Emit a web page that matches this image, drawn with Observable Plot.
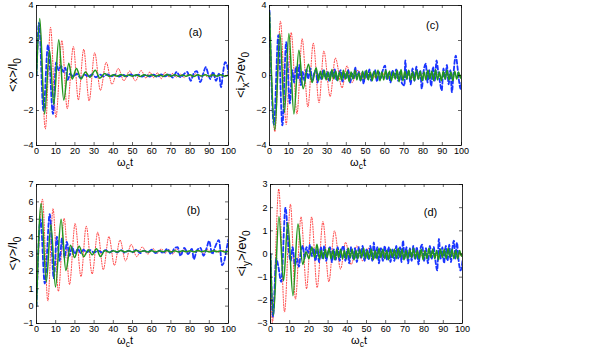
<!DOCTYPE html>
<html><head><meta charset="utf-8">
<script src="https://cdn.jsdelivr.net/npm/d3@7"></script>
<script src="https://cdn.jsdelivr.net/npm/@observablehq/plot@0.6"></script>
<style>
body{margin:0;background:#fff}
#c{position:relative;width:599px;height:349px;overflow:hidden;font-family:"Liberation Sans",Arial,sans-serif;background:#fff}
#c svg{position:absolute}
</style></head><body><div id="c"></div>
<script>
// ---- tick labels ----
const xTicks = [0,10,20,30,40,50,60,70,80,90,100];
const yTicksA = [-4,-2,0,2,4];
const yTicksB = [-1,0,1,2,3,4,5,6,7];
const yTicksC = [-4,-2,0,2,4];
const yTicksD = [-3,-2,-1,0,1,2,3];

// ---- panel (a): <x>/l0 ----
const aRed = [[0,0],[1.5,3.0],[4.6,-3.05],[7.3,2.75],[10.1,-2.4],[13.2,2.0],[16.0,-1.9],[19.2,1.65],[21.8,-1.4],[24.6,1.5],[27.4,-1.45],[30.3,1.3],[33.3,-0.85],[36.3,0.75],[39.3,-0.5],[42.6,0.4],[45.5,-0.3],[48.5,0.25],[51.5,-0.3],[54.5,0.28],[57,-0.15],[59,0.2],[61,-0.12],[63,0.15],[65,-0.18],[67,0.18],[69,-0.08],[71,0.12],[73,-0.1],[75,0.08],[77,-0.12],[79,0.1],[81,-0.08],[83,0.1],[85,-0.1],[87,0.1],[89,-0.08],[91,0.06],[93,-0.08],[95,0.08],[97,-0.05],[100,0.05]];
const aBlue = [[0,0],[1.3,3.0],[3.6,-2.0],[6.0,1.75],[8.6,-2.2],[10.2,0.75],[11.5,0.3],[12.8,0.55],[14,0.2],[15,0.45],[16.3,-0.25],[17.5,0.1],[19,-0.05],[21,0.1],[23,-0.15],[25,0.05],[27,-0.06],[29,0.06],[31,-0.1],[33,0.05],[35,-0.05],[37,0.06],[39,-0.05],[41,0.05],[43,-0.06],[45,0.04],[47,-0.05],[49,0.06],[51,-0.03],[53,0.05],[55,-0.06],[57,0.04],[59,-0.06],[61,0.05],[63,-0.08],[65,0.06],[67,-0.05],[69,0.08],[71,-0.12],[73,0.2],[75,-0.1],[77,0.1],[78.5,0.2],[80.3,-0.3],[82,0.15],[83.5,0.25],[85.3,-0.38],[86.8,0.1],[88.2,0.48],[89.5,0.05],[90.5,-0.2],[92,0.2],[93.5,-0.3],[95,0.1],[96.1,-0.67],[97.2,0.2],[98.2,0.76],[99.2,0.6],[100,0.1]];
const aGreen = [[0,0],[1.7,3.25],[4.2,-2.2],[6.8,1.45],[9.0,-1.65],[11.6,2.05],[14.2,-1.4],[16.8,0.7],[18.6,-0.2],[20.8,0.4],[23.2,-0.2],[25.5,0.2],[27.8,-0.1],[30.6,0.3],[33,-0.15],[35.5,0.12],[38,-0.06],[40,0.05],[42,-0.04],[44,0.06],[46,-0.05],[48,0.03],[50,-0.04],[52,0.05],[54,-0.06],[56,0.04],[58,-0.03],[60,0.05],[62,-0.05],[64,0.03],[66,-0.05],[68,0.06],[70,-0.04],[72,0.05],[74,-0.05],[76,0.03],[78,-0.04],[80,0.05],[82,-0.06],[84,0.04],[86,-0.03],[88,0.05],[90,-0.05],[92,0.04],[94,-0.04],[96,0.05],[98,-0.04],[100,0.03]];

// ---- panel (b): <y>/l0 ----
const bRed = [[0,0],[3.1,6.15],[5.9,0.3],[8.6,5.6],[11.4,0.85],[14.4,5.05],[17.2,1.25],[20.1,4.75],[23.2,1.7],[25.9,4.6],[29,1.85],[31.9,4.25],[34.8,2.1],[37.7,4.0],[40.6,2.35],[43.5,3.8],[46.4,2.6],[49.3,3.55],[52.2,2.85],[55,3.4],[58,3.0],[60.8,3.3],[63,3.05],[65,3.3],[67,3.05],[69,3.25],[71,3.0],[73,3.3],[75,3.05],[77,3.25],[79,3.05],[81,3.25],[83,3.1],[85,3.2],[87,3.05],[89,3.25],[91,3.1],[93,3.2],[95,3.1],[97,3.2],[100,3.15]];
const bBlue = [[0,0],[2.1,5.0],[4.3,1.3],[6.9,5.3],[9.0,1.6],[10.6,4.0],[12,2.6],[13.3,3.9],[14.7,2.8],[15.8,3.7],[17.2,2.9],[18.5,3.4],[20,3.0],[21.5,3.3],[23,3.05],[24.5,3.25],[26,3.1],[28,3.22],[30,3.08],[32,3.2],[34,3.1],[36,3.22],[38,3.08],[40,3.2],[42,3.1],[44,3.22],[46,3.08],[48,3.2],[50,3.1],[52,3.25],[54,3.05],[56,3.2],[58,3.1],[60,3.25],[62,3.05],[64,3.2],[66,3.05],[68,3.3],[70,3.0],[72,3.35],[73.5,3.4],[75,2.9],[77,3.35],[79,3.0],[81,3.3],[81.9,2.7],[83.5,3.2],[85.4,3.35],[87,2.9],[88.5,3.3],[89.9,3.75],[91.5,3.0],[93,3.4],[95,3.8],[96.7,2.35],[97.8,2.6],[99,3.3],[100,3.85]];
const bGreen = [[0,0],[2.4,5.9],[5.1,1.4],[7.5,4.7],[9.9,1.1],[12.8,5.0],[15.3,2.05],[17.7,3.5],[19.8,2.8],[22.2,3.45],[24.6,2.85],[27,3.25],[29,2.95],[31.2,3.3],[33.3,2.85],[35.5,3.2],[38,3.1],[40,3.18],[42,3.12],[44,3.2],[46,3.12],[48,3.18],[50,3.12],[52,3.2],[54,3.13],[56,3.18],[58,3.12],[60,3.19],[62,3.12],[64,3.18],[66,3.13],[68,3.2],[70,3.12],[72,3.18],[74,3.12],[76,3.19],[78,3.13],[80,3.18],[82,3.12],[84,3.2],[86,3.13],[88,3.18],[90,3.12],[92,3.19],[94,3.13],[96,3.18],[98,3.12],[100,3.16]];

// ---- panel (c): <ix>/ev0 ----
const cRed = [[0,3.6],[2.8,-3.2],[5.7,3.1],[8.7,-2.8],[11.3,2.45],[14.3,-2.2],[17,2.1],[20,-1.8],[22.8,1.85],[25.8,-1.55],[28.3,1.4],[31.6,-1.2],[34.3,1.0],[37.8,-0.7],[40.3,0.55],[43,-0.4],[46,0.3],[49,-0.25],[52,0.2],[54,-0.15],[56,0.15],[58,-0.12],[60,0.15],[62,-0.15],[64,0.1],[66,-0.12],[68,0.15],[70,-0.1],[72,0.12],[74,-0.15],[76,0.1],[78,-0.1],[80,0.12],[82,-0.12],[84,0.1],[86,-0.1],[88,0.12],[90,-0.12],[92,0.1],[94,-0.1],[96,0.12],[98,-0.1],[100,0.05]];
const cBlue = [[0,3.7],[2.3,-2.8],[4.6,2.3],[6.7,-2.85],[8.7,1.9],[10.6,-1.6],[11.8,0.3],[12.8,-0.4],[13.8,0.5],[14.8,-0.2],[15.5,0.6],[16.4,-0.55],[17.3,0.2],[18.2,-0.3],[19.2,0.35],[20.1,-0.2],[21.3,0.4],[22.2,-0.3],[23.2,0.1],[24.2,0.3],[25,-0.4],[26,0.1],[27,-0.2],[28,0.3],[29,-0.15],[30,0.2],[31,-0.3],[32,0.25],[33,-0.1],[34,0.35],[35,-0.3],[36,0.05],[37,0.3],[38,-0.35],[39,0.15],[40,-0.2],[41,0.3],[42,-0.4],[43,0.1],[44,-0.15],[44.6,0.48],[45.5,-0.1],[46.5,0.2],[47.5,-0.3],[48.3,0.15],[49,-0.48],[50,0.25],[51,-0.2],[52,0.35],[53,-0.3],[54,0.1],[55,0.3],[56,-0.35],[57,0.2],[58,-0.15],[59,0.3],[60.2,0.57],[61,-0.2],[62,0.15],[63,-0.4],[64,0.3],[65,-0.1],[66,0.35],[67,-0.3],[68,0.2],[69,-0.45],[70.3,-0.57],[70.7,0.86],[71.5,-0.2],[72.5,0.3],[73.5,-0.5],[74.5,0.4],[75.5,-0.3],[76.5,0.5],[77.5,-0.2],[78.5,0.3],[79.3,-0.76],[80.2,0.2],[81.4,0.67],[82.3,-0.4],[83.2,0.3],[84.2,-0.6],[85.2,0.5],[86.1,-0.3],[87,0.86],[87.9,0.2],[88.8,-0.4],[89.7,-0.86],[90.6,0.4],[91.5,-0.2],[92.4,0.6],[93.3,-0.5],[94.2,0.3],[95,-0.95],[95.9,0.2],[97,1.14],[97.9,0.5],[98.7,-0.3],[99.5,-0.76],[100,-0.4]];
const cGreen = [[0,3.6],[2.8,-3.1],[5.4,2.4],[7.8,-2.1],[10.1,2.4],[12.7,-2.2],[15.3,1.45],[17.5,-0.75],[20.3,0.65],[22.2,-0.4],[24.3,0.45],[25.5,-0.3],[26.5,0.25],[27.5,-0.2],[28.5,0.3],[29.5,-0.25],[30.5,0.2],[31.5,-0.3],[32.5,0.35],[33.5,-0.2],[34.5,0.25],[35.5,-0.3],[36.5,0.2],[37.5,-0.25],[38.5,0.3],[39.5,-0.2],[40.5,0.25],[41.5,-0.35],[42.5,0.2],[43.5,-0.2],[44.5,0.3],[45.5,-0.25],[46.5,0.15],[47.5,-0.3],[48.5,0.25],[49.5,-0.2],[50.5,0.3],[51.5,-0.25],[52.5,0.2],[53.5,-0.3],[54.5,0.25],[55.5,-0.15],[56.5,0.3],[57.5,-0.3],[58.5,0.2],[59.5,-0.25],[60.5,0.3],[61.5,-0.2],[62.5,0.25],[63.5,-0.3],[64.5,0.2],[65.5,-0.2],[66.5,0.3],[67.5,-0.35],[68.5,0.35],[69.5,-0.3],[70.5,0.25],[71.5,-0.2],[72.5,0.3],[73.5,-0.25],[74.5,0.2],[75.5,-0.3],[76.5,0.3],[77.5,-0.2],[78.5,0.25],[79.5,-0.3],[80.5,0.2],[81.5,-0.25],[82.5,0.3],[83.5,-0.2],[84.5,0.25],[85.5,-0.3],[86.5,0.35],[87.5,-0.25],[88.5,0.2],[89.5,-0.3],[90.5,0.25],[91.5,-0.2],[92.5,0.3],[93.5,-0.25],[94.5,0.2],[95.5,-0.3],[96.5,0.25],[97.5,-0.2],[98.5,0.2],[99.5,-0.15],[100,0.05]];

// ---- panel (d): <iy>/ev0 ----
const dRed = [[0,0],[1.0,-2.95],[4.3,2.8],[7.3,-2.5],[10.4,2.15],[13,-1.95],[15.9,1.6],[18.8,-1.5],[21.4,1.6],[24.3,-1.45],[27.3,1.4],[30.4,-1.2],[33.3,1.0],[36.5,-0.65],[39.1,0.5],[42,-0.45],[45,0.35],[48,-0.3],[51,0.25],[54,-0.2],[56,0.15],[58,-0.15],[60,0.12],[62,-0.15],[64,0.15],[66,-0.1],[68,0.12],[70,-0.15],[72,0.1],[74,-0.12],[76,0.15],[78,-0.1],[80,0.12],[82,-0.15],[84,0.1],[86,-0.12],[88,0.12],[90,-0.1],[92,0.12],[94,-0.12],[96,0.1],[98,-0.1],[100,0.05]];
const dBlue = [[0,0],[1.3,-2.7],[3.0,-0.2],[4.0,-0.5],[5.6,-1.2],[7.8,2.0],[9.6,0.1],[10.5,-0.3],[11.5,0.3],[12.8,-0.5],[13.8,-0.2],[14.8,-0.55],[15.8,0.1],[16.8,0.35],[17.8,-0.2],[18.7,0.3],[19.7,0.05],[20.6,0.4],[21.5,-0.1],[22.5,0.25],[23.4,-0.3],[24.4,0.2],[25.3,-0.35],[26.2,0.3],[27.1,-0.2],[28,0.35],[29,-0.3],[30,0.1],[31,0.3],[32,-0.35],[33,0.2],[34,-0.25],[35,0.3],[36,-0.3],[37,0.15],[38,0.35],[39,-0.3],[40,0.2],[41,-0.4],[42,0.3],[43,-0.2],[44,0.25],[45,-0.35],[46,0.3],[47,-0.15],[48,0.35],[49,-0.3],[50,0.2],[51,-0.25],[52,0.35],[53,-0.3],[53.8,0.5],[54.7,-0.2],[55.6,0.3],[56.5,-0.4],[57.5,0.25],[58.5,-0.3],[59.5,0.35],[60.5,-0.25],[61.5,0.3],[62.5,-0.35],[63.5,0.2],[64.5,-0.3],[65.5,0.35],[66.5,-0.2],[67.5,0.3],[68.2,-0.35],[69,0.58],[69.9,-0.2],[70.8,0.3],[71.7,-0.4],[72.6,0.25],[73.5,-0.3],[74.4,0.35],[75.3,-0.25],[76.2,0.3],[77.1,-0.45],[78,0.2],[79,0.4],[80,-0.3],[81,0.25],[82,-0.4],[83,0.35],[84,-0.2],[85,0.3],[86,-0.35],[86.8,-0.71],[87.7,0.65],[88.6,-0.2],[89.5,0.3],[90.4,-0.4],[91.3,0.35],[92.2,-0.3],[93.1,0.4],[94,-0.35],[94.8,0.3],[95.5,0.58],[96.3,-0.2],[97.1,0.5],[98,-0.3],[99,-0.71],[100,-0.3]];
const dGreen = [[0,0],[1.5,-2.65],[4.4,1.62],[6.8,-1.15],[9.0,1.35],[11.7,-1.8],[14.3,1.3],[16.8,-0.45],[18.5,0.1],[20,-0.2],[21.5,0.3],[23,-0.15],[24.2,0.42],[25.5,-0.2],[26.5,0.15],[27.5,-0.2],[28.5,0.2],[29.5,-0.15],[30.5,0.25],[31.5,-0.2],[32.5,0.15],[33.5,-0.25],[34.5,0.2],[35.5,-0.15],[36.5,0.2],[37.5,-0.2],[38.5,0.15],[39.5,-0.2],[40.5,0.25],[41.5,-0.15],[42.5,0.2],[43.5,-0.25],[44.5,0.15],[45.5,-0.2],[46.5,0.2],[47.5,-0.15],[48.5,0.25],[49.5,-0.2],[50.5,0.15],[51.5,-0.2],[52.5,0.2],[53.5,-0.25],[54.5,0.15],[55.5,-0.2],[56.5,0.25],[57.5,-0.15],[58.5,0.2],[59.5,-0.2],[60.5,0.15],[61.5,-0.25],[62.5,0.2],[63.5,-0.15],[64.5,0.2],[65.5,-0.2],[66.5,0.25],[67.5,-0.15],[68.5,0.2],[69.5,-0.25],[70.5,0.15],[71.5,-0.2],[72.5,0.2],[73.5,-0.15],[74.5,0.25],[75.5,-0.2],[76.5,0.15],[77.5,-0.2],[78.5,0.2],[79.5,-0.25],[80.5,0.15],[81.5,-0.2],[82.5,0.25],[83.5,-0.15],[84.5,0.2],[85.5,-0.2],[86.5,0.15],[87.5,-0.25],[88.5,0.2],[89.5,-0.15],[90.5,0.2],[91.5,-0.2],[92.5,0.25],[93.5,-0.15],[94.5,0.2],[95.5,-0.2],[96.5,0.15],[97.5,-0.2],[98.5,0.15],[99.5,-0.1],[100,0.02]];

const RED = "#ff2020", BLUE = "#1a35ff", GREEN = "#22961c";
const FONT = "'Liberation Sans', Arial, Helvetica, sans-serif";

const panels = [
  {left:0, top:0, h:175, fh:140, yDomain:[-4,4], yTicks:yTicksA, red:aRed, blue:aBlue, green:aGreen,
   ylab:[["<x>/l",0],["0",1]], ylx:17, tag:"(a)", tagDx:-33, tagDy:27},
  {left:233, top:0, h:175, fh:140, yDomain:[-4,4], yTicks:yTicksC, red:cRed, blue:cBlue, green:cGreen,
   ylab:[["<i",0],["x",1],[">/ev",-1],["0",1]], ylx:12, tag:"(c)", tagDx:-29, tagDy:20},
  {left:0, top:179, h:170, fh:139, yDomain:[-1,7], yTicks:yTicksB, red:bRed, blue:bBlue, green:bGreen,
   ylab:[["<y>/l",0],["0",1]], ylx:17, tag:"(b)", tagDx:-35, tagDy:26},
  {left:234, top:179, h:170, fh:139, yDomain:[-3,3], yTicks:yTicksD, red:dRed, blue:dBlue, green:dGreen,
   ylab:[["<i",0],["y",1],[">/ev",-1],["0",1]], ylx:12, tag:"(d)", tagDx:-32, tagDy:28}
];

const root = document.getElementById("c");
const FW = 192, ML = 36, W = 300;

for (const p of panels) {
  const lineOpts = {x: d => d[0], y: d => d[1], curve: "monotone-x", clip: true};
  const chart = Plot.plot({
    width: W, height: p.h,
    marginLeft: ML, marginRight: W - ML - FW, marginTop: 5, marginBottom: p.h - 5 - p.fh,
    style: {fontFamily: FONT, fontSize: "9px", background: "transparent", color: "#000", overflow: "visible"},
    x: {domain: [0, 100]},
    y: {domain: p.yDomain},
    marks: [
      Plot.line(p.red, {...lineOpts, stroke: RED, strokeWidth: 0.9, strokeDasharray: "1,1.6"}),
      Plot.line(p.blue, {...lineOpts, stroke: BLUE, strokeWidth: 1.8, strokeDasharray: "4,2.5"}),
      Plot.line(p.green, {...lineOpts, stroke: GREEN, strokeWidth: 1.5}),
      Plot.ruleX(xTicks, {x: d => d, insetTop: p.fh - 3, stroke: "#000", strokeWidth: 0.6}),
      Plot.ruleX(xTicks, {x: d => d, insetBottom: p.fh - 3, stroke: "#000", strokeWidth: 0.6}),
      Plot.ruleY(p.yTicks, {y: d => d, insetRight: FW - 3, stroke: "#000", strokeWidth: 0.6}),
      Plot.ruleY(p.yTicks, {y: d => d, insetLeft: FW - 3, stroke: "#000", strokeWidth: 0.6}),
      Plot.axisX(xTicks, {tickSize: 0, tickPadding: 2, label: null, fontSize: 9}),
      Plot.axisY(p.yTicks, {tickSize: 0, tickPadding: 3, label: null, fontSize: 9}),
      Plot.frame({stroke: "#000", strokeWidth: 0.8}),
      Plot.text([p.tag], {text: d => d, frameAnchor: "top-right", dx: p.tagDx, dy: p.tagDy - 4, fontSize: 11, textAnchor: "middle"})
    ]
  });
  chart.style.left = p.left + "px";
  chart.style.top = p.top + "px";
  const svg = d3.select(chart);
  // x-axis label: omega_c t
  const xl = svg.append("text")
    .attr("x", ML + FW / 2 - 7).attr("y", 5 + p.fh + 21)
    .attr("font-family", FONT).attr("font-size", 11).attr("fill", "#000");
  xl.append("tspan").text("ω");
  xl.append("tspan").attr("dy", 2.5).attr("font-size", 8.5).text("c");
  xl.append("tspan").attr("dy", -2.5).text("t");
  // y-axis label
  const cy = 5 + p.fh / 2;
  const yl = svg.append("text")
    .attr("transform", `translate(${p.ylx},${cy}) rotate(-90)`)
    .attr("text-anchor", "middle")
    .attr("font-family", FONT).attr("font-size", 13).attr("fill", "#000");
  for (const [s, sub] of p.ylab) {
    const t = yl.append("tspan").text(s);
    if (sub === 1) t.attr("dy", 4).attr("font-size", 10);
    if (sub === -1) t.attr("dy", -4);
  }
  root.appendChild(chart);
}
</script></body></html>
